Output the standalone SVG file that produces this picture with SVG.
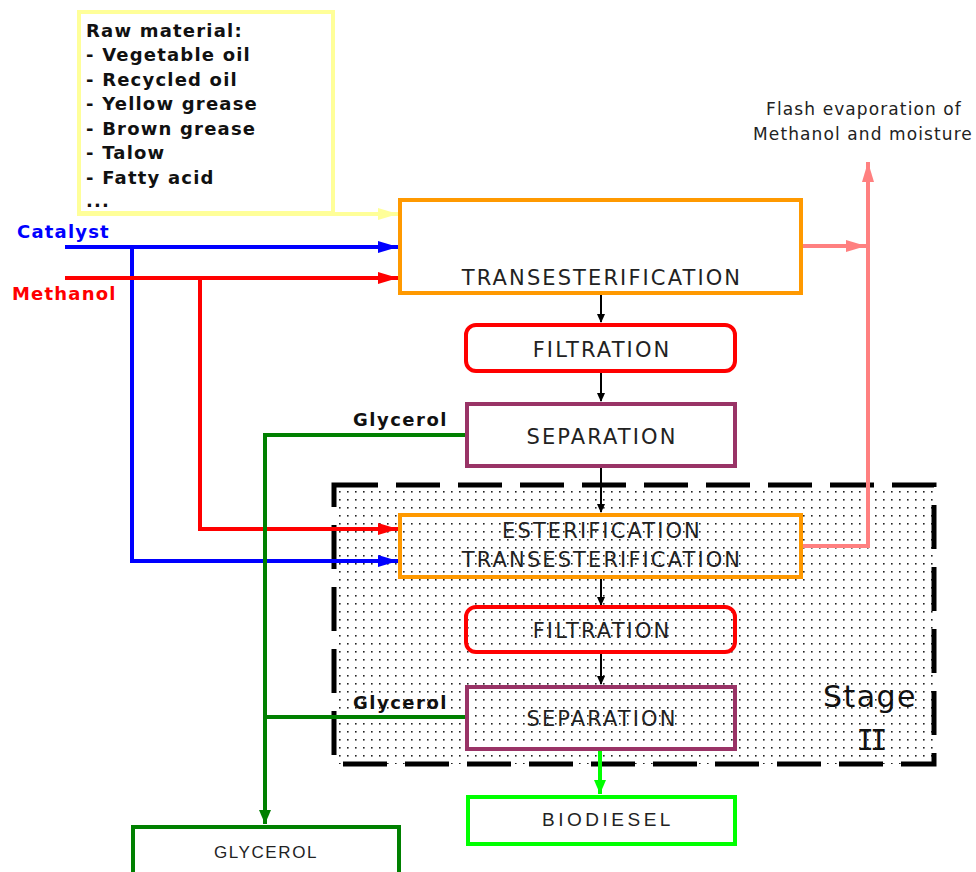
<svg xmlns="http://www.w3.org/2000/svg" width="976" height="872" viewBox="0 0 976 872">
<defs>
<pattern id="dots" x="0" y="0" width="8" height="8" patternUnits="userSpaceOnUse">
<rect x="3" y="3" width="1.6" height="1.6" fill="#222"/>
</pattern>
<marker id="aBlk" markerWidth="10" markerHeight="12" refX="8" refY="5" orient="auto" markerUnits="userSpaceOnUse"><path d="M0,1 L9,5 L0,9 Z" fill="#000"/></marker>
<marker id="aBlue" markerWidth="22" markerHeight="14" refX="20" refY="7" orient="auto" markerUnits="userSpaceOnUse"><path d="M0,1 L20,7 L0,13 Z" fill="#0000ff"/></marker>
<marker id="aRed" markerWidth="22" markerHeight="14" refX="20" refY="7" orient="auto" markerUnits="userSpaceOnUse"><path d="M0,1 L20,7 L0,13 Z" fill="#ff0000"/></marker>
<marker id="aYel" markerWidth="22" markerHeight="14" refX="20" refY="7" orient="auto" markerUnits="userSpaceOnUse"><path d="M0,1 L20,7 L0,13 Z" fill="#ffff99"/></marker>
<marker id="aPink" markerWidth="22" markerHeight="14" refX="20" refY="7" orient="auto" markerUnits="userSpaceOnUse"><path d="M0,1 L20,7 L0,13 Z" fill="#ff8080"/></marker>
<marker id="aGreen" markerWidth="16" markerHeight="16" refX="14" refY="7" orient="auto" markerUnits="userSpaceOnUse"><path d="M0,1 L14,7 L0,13 Z" fill="#008000"/></marker>
<marker id="aLime" markerWidth="16" markerHeight="16" refX="14" refY="7" orient="auto" markerUnits="userSpaceOnUse"><path d="M0,1 L14,7 L0,13 Z" fill="#00ff00"/></marker>
</defs>
<style>
.box{fill:none;stroke-width:4}
.t{font-family:"DejaVu Sans",Verdana,sans-serif;font-size:21px;letter-spacing:2.1px;fill:#222;text-anchor:middle}
.b{font-family:"DejaVu Sans",Verdana,sans-serif;font-weight:bold;font-size:18px;letter-spacing:1.2px;fill:#111}
.s{font-family:"Liberation Sans",Arial,sans-serif;fill:#222;text-anchor:middle}
.f{font-family:"DejaVu Sans",Verdana,sans-serif;font-size:17px;letter-spacing:1.1px;fill:#222;text-anchor:middle}
.st{font-family:"DejaVu Sans",Verdana,sans-serif;font-size:30px;letter-spacing:1.5px;fill:#111;text-anchor:middle}
.ln{fill:none;stroke-width:4}
</style>
<rect width="976" height="872" fill="#fff"/>

<g id="stage2">
<rect x="334" y="485" width="600" height="279" fill="url(#dots)"/>
<rect x="334" y="485" width="600" height="279" fill="none" stroke="#000" stroke-width="5" stroke-dasharray="44 18"/>
<text x="870" y="707" class="st">Stage</text>
<text x="870" y="750" class="st" style="font-family:'DejaVu Sans Mono',monospace;font-size:29px;letter-spacing:-4px">II</text>
</g>

<g id="connectors">
<line x1="77" y1="214" x2="398" y2="214" stroke="#ffff99" stroke-width="4" marker-end="url(#aYel)"/>
<line x1="65" y1="247" x2="398" y2="247" class="ln" stroke="#0000ff" marker-end="url(#aBlue)"/>
<polyline points="132,247 132,561 398,561" class="ln" stroke="#0000ff" marker-end="url(#aBlue)"/>
<line x1="65" y1="278" x2="398" y2="278" class="ln" stroke="#ff0000" marker-end="url(#aRed)"/>
<polyline points="200,278 200,529 398,529" class="ln" stroke="#ff0000" marker-end="url(#aRed)"/>
<line x1="802" y1="246" x2="866" y2="246" class="ln" stroke="#ff8080" marker-end="url(#aPink)"/>
<polyline points="802,546 868,546 868,162" class="ln" stroke="#ff8080" marker-end="url(#aPink)"/>
<line x1="601" y1="294" x2="601" y2="322" stroke="#000" stroke-width="2" marker-end="url(#aBlk)"/>
<line x1="601" y1="372" x2="601" y2="401" stroke="#000" stroke-width="2" marker-end="url(#aBlk)"/>
<line x1="601" y1="467" x2="601" y2="512" stroke="#000" stroke-width="2" marker-end="url(#aBlk)"/>
<line x1="601" y1="578" x2="601" y2="605" stroke="#000" stroke-width="2" marker-end="url(#aBlk)"/>
<line x1="601" y1="653" x2="601" y2="684" stroke="#000" stroke-width="2" marker-end="url(#aBlk)"/>
<polyline points="466,435 265,435 265,824" class="ln" stroke="#008000" marker-end="url(#aGreen)"/>
<line x1="466" y1="717" x2="265" y2="717" class="ln" stroke="#008000"/>
<line x1="600" y1="750" x2="600" y2="794" class="ln" stroke="#00ff00" marker-end="url(#aLime)"/>
<text x="17" y="238" class="b" style="fill:#0000ff">Catalyst</text>
<text x="12" y="300" class="b" style="fill:#ff0000">Methanol</text>
<text x="353" y="426" class="b" style="letter-spacing:1.5px">Glycerol</text>
<text x="353" y="709" class="b" style="letter-spacing:1.5px">Glycerol</text>
<text x="864" y="115" class="f">Flash evaporation of</text>
<text x="863" y="140" class="f">Methanol and moisture</text>
</g>

<g id="raw">
<rect x="79" y="12" width="254" height="201" class="box" stroke="#ffff99"/>
<text class="b"><tspan x="86" y="37">Raw material:</tspan><tspan x="86" y="61">- Vegetable oil</tspan><tspan x="86" y="86">- Recycled oil</tspan><tspan x="86" y="110">- Yellow grease</tspan><tspan x="86" y="135">- Brown grease</tspan><tspan x="86" y="159">- Talow</tspan><tspan x="86" y="184">- Fatty acid</tspan><tspan x="86" y="207">...</tspan></text>
</g>

<g id="trans1">
<rect x="400" y="200" width="401" height="93" class="box" stroke="#ff9900" fill="#fff"/>
<text x="602" y="285" class="t">TRANSESTERIFICATION</text>
</g>
<g id="filt1">
<rect x="466" y="325" width="269" height="46" rx="10" class="box" stroke="#ff0000" fill="#fff"/>
<text x="602" y="357" class="t">FILTRATION</text>
</g>
<g id="sep1">
<rect x="467" y="404" width="268" height="62" class="box" stroke="#993366" fill="#fff"/>
<text x="602" y="444" class="t">SEPARATION</text>
</g>
<g id="ester">
<rect x="400" y="515" width="401" height="62" class="box" stroke="#ff9900"/>
<text x="602" y="538" class="t">ESTERIFICATION</text>
<text x="602" y="567" class="t">TRANSESTERIFICATION</text>
</g>
<g id="filt2">
<rect x="466" y="607" width="269" height="45" rx="10" class="box" stroke="#ff0000"/>
<text x="602" y="638" class="t">FILTRATION</text>
</g>
<g id="sep2">
<rect x="467" y="687" width="268" height="62" class="box" stroke="#993366"/>
<text x="602" y="726" class="t">SEPARATION</text>
</g>
<g id="biodiesel">
<rect x="468" y="797" width="267" height="47" class="box" stroke="#00ff00" fill="#fff"/>
<text x="608" y="826" class="s" style="font-size:19px;letter-spacing:3.5px">BIODIESEL</text>
</g>
<g id="glycerol">
<rect x="133" y="827" width="266" height="60" class="box" stroke="#008000" fill="#fff"/>
<text x="266" y="858" class="s" style="font-size:17px;letter-spacing:1.6px">GLYCEROL</text>
</g>
</svg>
